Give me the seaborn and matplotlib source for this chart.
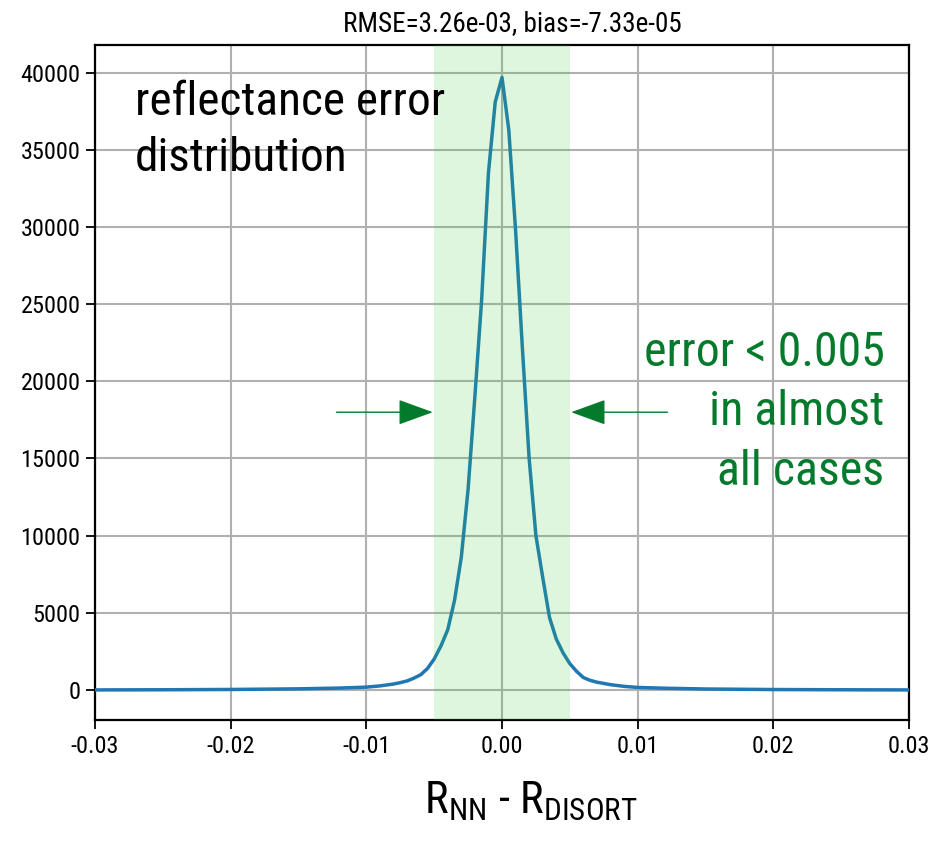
import matplotlib
matplotlib.use("Agg")
import matplotlib.pyplot as plt
from matplotlib import font_manager
import seaborn as sns
import pandas as pd

# ---- data ----
err_x = [-0.030, -0.025, -0.020, -0.015, -0.012, -0.010, -0.009, -0.008,
         -0.0075, -0.007, -0.0065, -0.006, -0.0055, -0.005, -0.0045, -0.004,
         -0.0035, -0.003, -0.0025, -0.002, -0.0015, -0.001, -0.0005, 0.0,
         0.0005, 0.001, 0.0015, 0.002, 0.0025, 0.003, 0.0035, 0.004,
         0.0045, 0.005, 0.0055, 0.006, 0.0065, 0.007, 0.0075, 0.008,
         0.009, 0.010, 0.012, 0.015, 0.020, 0.025, 0.030]
err_count = [0, 10, 30, 70, 120, 180, 260, 380,
             470, 580, 760, 980, 1380, 2000, 2850, 3900,
             5800, 8600, 13000, 19000, 25300, 33500, 38100, 39700,
             36300, 29800, 22200, 15000, 10000, 7300, 4700, 3300,
             2400, 1700, 1200, 800, 620, 500, 420, 340,
             230, 160, 110, 60, 25, 10, 0]

x_ticks = [-0.03, -0.02, -0.01, 0.00, 0.01, 0.02, 0.03]
y_ticks = [0, 5000, 10000, 15000, 20000, 25000, 30000, 35000, 40000]
title_text = "RMSE=3.26e-03, bias=-7.33e-05"
band_limits = [-0.005, 0.005]
note_text = "error < 0.005\nin almost\nall cases"
label_text = "reflectance error\ndistribution"

df = pd.DataFrame({"err": err_x, "count": err_count})

# ---- style ----
sns.set_style("ticks")
names = {f.name for f in font_manager.fontManager.ttflist}
FONT = "DejaVu Sans"
for cand in ["Roboto Condensed", "Liberation Sans Narrow", "Roboto"]:
    if cand in names:
        FONT = cand
        break
plt.rcParams["font.family"] = [FONT, "DejaVu Sans"]
plt.rcParams["axes.unicode_minus"] = False
plt.rcParams["mathtext.fontset"] = "custom"
plt.rcParams["mathtext.rm"] = FONT
plt.rcParams["mathtext.it"] = FONT

fig = plt.figure(figsize=(9.32, 8.43), dpi=100)
ax = fig.add_axes([95 / 932, 1 - 720 / 843, 814 / 932, 675 / 843])

GREEN = "#047a2c"
BLUE = "#1f77b4"

sns.lineplot(data=df, x="err", y="count", ax=ax, color=BLUE, lw=2.5, zorder=3)
ax.axvspan(band_limits[0], band_limits[1], color="limegreen", alpha=0.16,
           lw=0, zorder=4)

ax.set_xlim(x_ticks[0], x_ticks[-1])
ax.set_ylim(-1950, 41800)
ax.set_xticks(x_ticks)
ax.set_xticklabels([f"{v:.2f}" for v in x_ticks])
ax.set_yticks(y_ticks)
ax.set_yticklabels([str(v) for v in y_ticks])
ax.grid(True, color="#b0b0b0", lw=1.5, zorder=0)
ax.set_axisbelow(True)
for s in ax.spines.values():
    s.set_linewidth(1.6)
    s.set_color("black")
ax.tick_params(axis="both", labelsize=17.5, length=6.5, width=1.3, pad=4,
               colors="black")

ax.set_title(title_text, fontsize=19.5, pad=10, x=0.513, color="black")
ax.set_xlabel(r"$\mathregular{R_{NN}}$ - $\mathregular{R_{DISORT}}$",
              fontsize=32, color="black")
ax.xaxis.set_label_coords(0.536, -0.088)
ax.set_ylabel("")

ax.text(0.049, 0.948, label_text, transform=ax.transAxes, fontsize=34,
        ha="left", va="top", linespacing=1.35, color="black", zorder=6)

ax.text(0.0282, 18000, note_text, fontsize=34.5, color=GREEN, ha="right",
        va="center", multialignment="right", linespacing=1.38, zorder=6)

arrow_y = 18000
astyle = "-|>,head_length=1.1,head_width=0.4"
ax.annotate("", xy=(band_limits[0] - 0.0001, arrow_y), xytext=(-0.0122, arrow_y),
            arrowprops=dict(arrowstyle=astyle, color=GREEN, lw=1.0,
                            mutation_scale=20, shrinkA=0, shrinkB=0), zorder=6)
ax.annotate("", xy=(band_limits[1] + 0.0001, arrow_y), xytext=(0.0122, arrow_y),
            arrowprops=dict(arrowstyle=astyle, color=GREEN, lw=1.0,
                            mutation_scale=20, shrinkA=0, shrinkB=0), zorder=6)

fig.savefig("out.png", dpi=100)
